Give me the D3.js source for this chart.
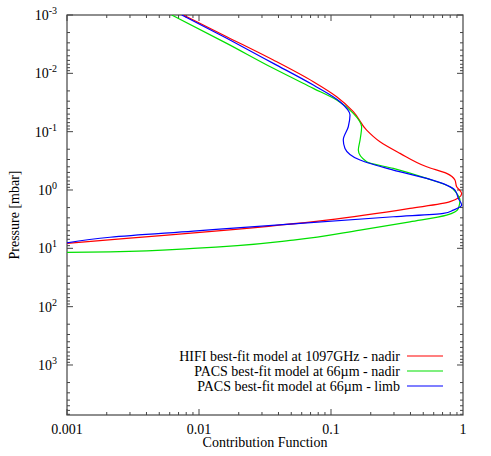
<!DOCTYPE html>
<html><head><meta charset="utf-8">
<script src="https://cdn.jsdelivr.net/npm/d3@7"></script>
<style>body{margin:0;background:#fff}svg text{font-family:"Liberation Serif","DejaVu Serif","Times New Roman",serif}</style>
</head><body>
<svg id="c" width="491" height="456" font-family="Liberation Serif, DejaVu Serif, serif"></svg>
<script>
// curve points as [log10(contribution), log10(pressure)]
const hifiNadir = [[-2.119,-3],[-1.79,-2.628],[-1.437,-2.228],[-1.134,-1.856],[-0.957,-1.599],[-0.831,-1.342],[-0.73,-1.027],[-0.629,-0.827],[-0.477,-0.628],[-0.275,-0.398],[-0.124,-0.285],[-0.061,-0.17],[-0.048,-0.055],[-0.01,0.058],[-0.098,0.2],[-0.402,0.316],[-1.033,0.516],[-1.79,0.688],[-2.548,0.83],[-3,0.916]];
const pacsNadir = [[-2.207,-3],[-1.79,-2.514],[-1.437,-2.086],[-1.134,-1.742],[-0.957,-1.542],[-0.831,-1.314],[-0.768,-1.084],[-0.78,-0.856],[-0.793,-0.684],[-0.73,-0.484],[-0.528,-0.37],[-0.275,-0.199],[-0.098,-0.055],[-0.048,0.058],[-0.023,0.173],[-0.035,0.316],[-0.124,0.431],[-0.402,0.545],[-0.78,0.688],[-1.286,0.859],[-2.043,1.002],[-2.674,1.06],[-3,1.07]];
const pacsLimb = [[-2.131,-3],[-1.79,-2.6],[-1.437,-2.171],[-1.134,-1.799],[-0.932,-1.513],[-0.856,-1.285],[-0.869,-1.084],[-0.907,-0.856],[-0.894,-0.713],[-0.78,-0.513],[-0.528,-0.341],[-0.275,-0.199],[-0.124,-0.084],[-0.061,0.002],[-0.035,0.144],[-0.01,0.259],[-0.073,0.345],[-0.149,0.401],[-0.528,0.459],[-1.286,0.58],[-2.043,0.705],[-2.674,0.81],[-3,0.905]];
const seriesNames = ["HIFI best-fit model at 1097GHz - nadir","PACS best-fit model at 66\u00b5m - nadir","PACS best-fit model at 66\u00b5m - limb"];
const seriesColors = ["#ff0000","#00e000","#0000ff"];
const xTicks = [0.001,0.01,0.1,1];
const yExps = [-3,-2,-1,0,1,2,3];

const svg = d3.select("#c");
const L = 67, R = 463, T = 15, B = 415;
const x = d3.scaleLog().domain([0.001,1]).range([L,R]);
const y = d3.scaleLog().domain([1e-3,7.2e3]).range([T,B]);
const ink = "#444";

// minor + major ticks
const g = svg.append("g").attr("stroke",ink).attr("stroke-width",1);
for (let e=-3;e<0;e++) for (let m=1;m<10;m++){
  const v=m*Math.pow(10,e), px=x(v), len=m===1?6:3;
  g.append("line").attr("x1",px).attr("x2",px).attr("y1",B).attr("y2",B-len);
  g.append("line").attr("x1",px).attr("x2",px).attr("y1",T).attr("y2",T+len);
}
for (let e=-3;e<4;e++) for (let m=1;m<10;m++){
  const v=m*Math.pow(10,e); if (v>7.2e3) continue;
  const py=y(v), len=m===1?6:3;
  g.append("line").attr("x1",L).attr("x2",L+len).attr("y1",py).attr("y2",py);
  g.append("line").attr("x1",R).attr("x2",R-len).attr("y1",py).attr("y2",py);
}
svg.append("rect").attr("x",L).attr("y",T).attr("width",R-L).attr("height",B-T)
  .attr("fill","none").attr("stroke",ink).attr("stroke-width",1.2);

// tick labels
svg.selectAll(".xl").data(xTicks).enter().append("text")
  .attr("x",d=>x(d)).attr("y",B+19).attr("text-anchor","middle").attr("font-size",14).text(d=>d);
const yl = svg.selectAll(".yl").data(yExps).enter().append("text")
  .attr("x",L-10).attr("y",d=>y(Math.pow(10,d))+5).attr("text-anchor","end").attr("font-size",14);
yl.append("tspan").text("10");
yl.append("tspan").attr("dy",-6).attr("font-size",10).text(d=>d);

svg.append("text").attr("x",(L+R)/2).attr("y",447).attr("text-anchor","middle").attr("font-size",14).text("Contribution Function");
svg.append("text").attr("transform","translate(19,"+((T+B)/2)+") rotate(-90)").attr("text-anchor","middle").attr("font-size",14).text("Pressure [mbar]");

// curves
const line = d3.line().x(d=>x(Math.pow(10,d[0]))).y(d=>y(Math.pow(10,d[1]))).curve(d3.curveMonotoneY);
svg.append("clipPath").attr("id","cl").append("rect").attr("x",L).attr("y",T).attr("width",R-L).attr("height",B-T);
[hifiNadir,pacsNadir,pacsLimb].forEach((s,i)=>{
  svg.append("path").datum(s).attr("d",line).attr("fill","none")
    .attr("stroke",seriesColors[i]).attr("stroke-width",1.2).attr("clip-path","url(#cl)");
});

// legend
seriesNames.forEach((n,i)=>{
  const ly = 356 + i*15;
  svg.append("text").attr("x",400).attr("y",ly+5).attr("text-anchor","end").attr("font-size",14).text(n);
  svg.append("line").attr("x1",407).attr("x2",443).attr("y1",ly).attr("y2",ly)
    .attr("stroke",seriesColors[i]).attr("stroke-width",1.2);
});
</script>
</body></html>
